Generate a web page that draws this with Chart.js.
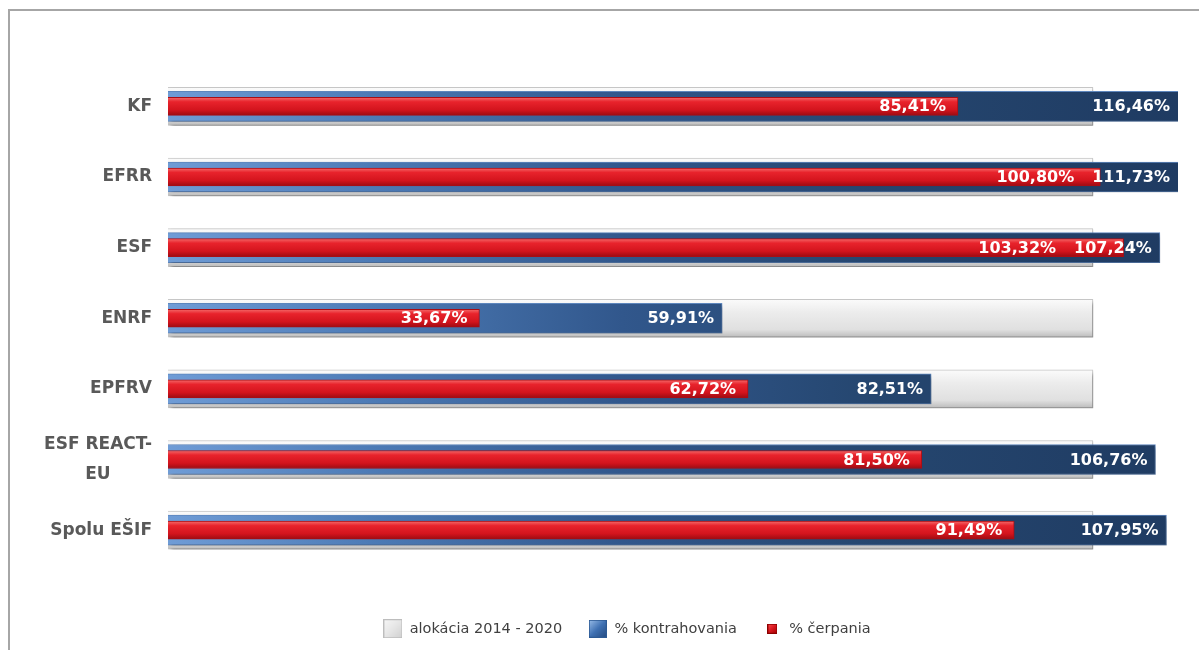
<!DOCTYPE html>
<html>
<head>
<meta charset="utf-8">
<script src="https://cdn.jsdelivr.net/npm/chart.js@4.4.1/dist/chart.umd.min.js"></script>
<style>
  html, body { margin: 0; padding: 0; background: #fff; }
  .wrap { position: relative; width: 1199px; height: 650px; overflow: hidden; }
  .frame { position: absolute; left: 8px; top: 9px; width: 1300px; height: 800px;
           border-left: 2px solid #a6a6a6; border-top: 2px solid #a6a6a6; }
  canvas { position: absolute; left: 0; top: 0; }
</style>
</head>
<body>
<div class="wrap">
  <div class="frame"></div>
  <canvas id="chart" width="1199" height="650"></canvas>
</div>
<script>
// data
const categories = ['KF', 'EFRR', 'ESF', 'ENRF', 'EPFRV', ['ESF REACT-', 'EU       '], 'Spolu EŠIF'];
const allocation = [100, 100, 100, 100, 100, 100, 100];
const contracted = [116.46, 111.73, 107.24, 59.91, 82.51, 106.76, 107.95];
const drawn = [85.41, 100.80, 103.32, 33.67, 62.72, 81.50, 91.49];
const seriesNames = ['alokácia 2014 - 2020', '% kontrahovania', '% čerpania'];

// vertical gradient across one bar
function vGrad(stops, thickness) {
  return (c) => {
    const chart = c.chart;
    if (!chart.chartArea || c.dataIndex === undefined) return stops[1][1];
    const yc = chart.scales.y.getPixelForValue(c.dataIndex);
    const g = chart.ctx.createLinearGradient(0, yc - thickness / 2, 0, yc + thickness / 2);
    stops.forEach(([p, col]) => g.addColorStop(p, col));
    return g;
  };
}

function blueFill(c) {
  const area = c.chart.chartArea;
  if (!area) return '#2f5488';
  const g = c.chart.ctx.createLinearGradient(area.left, 0, area.right, 0);
  g.addColorStop(0, '#6f9cd6');
  g.addColorStop(0.2, '#4d7bb6');
  g.addColorStop(0.45, '#31578c');
  g.addColorStop(0.7, '#25466f');
  g.addColorStop(1, '#1f3b62');
  return g;
}

function makeIcon(w, h, colors, edge) {
  const c = document.createElement('canvas');
  c.width = w; c.height = h;
  const x = c.getContext('2d');
  const g = x.createLinearGradient(0, 0, w, h);
  colors.forEach((col, i) => g.addColorStop(i / (colors.length - 1), col));
  x.fillStyle = g;
  x.fillRect(0, 0, w, h);
  x.strokeStyle = edge;
  x.strokeRect(0.5, 0.5, w - 1, h - 1);
  return c;
}

const legendIcons = [
  makeIcon(19, 19, ['#f7f7f7', '#e6e6e6', '#cfcfcf'], '#bdbdbd'),
  makeIcon(18, 18, ['#9cc0ea', '#3f71b3', '#24497f'], '#2d5a94'),
  makeIcon(10, 10, ['#ff5050', '#d81820', '#a00000'], '#8c0000')
];

const barShadows = {
  id: 'barShadows',
  beforeDatasetDraw(chart, args) {
    if (args.index > 1) return;
    const ctx = chart.ctx;
    ctx.save();
    ctx.shadowColor = args.index === 0 ? 'rgba(0,0,0,0.35)' : 'rgba(0,0,0,0.25)';
    ctx.shadowBlur = 4;
    ctx.shadowOffsetX = 3;
    ctx.shadowOffsetY = 3;
  },
  afterDatasetDraw(chart, args) {
    if (args.index > 1) return;
    chart.ctx.restore();
  }
};

// legend sits a bit right of the canvas centre, under the plot
const legendShift = {
  id: 'legendShift',
  afterLayout(chart) {
    chart.legend.left += 27;
    chart.legend.right += 27;
  }
};

const valueLabels = {
  id: 'valueLabels',
  afterDatasetsDraw(chart) {
    const ctx = chart.ctx;
    const area = chart.chartArea;
    const fmt = (v) => v.toFixed(2).replace('.', ',') + '%';
    ctx.save();
    ctx.font = 'bold 16px "DejaVu Sans"';
    ctx.fillStyle = '#ffffff';
    ctx.textAlign = 'right';
    ctx.textBaseline = 'middle';
    const blueMeta = chart.getDatasetMeta(1);
    const redMeta = chart.getDatasetMeta(2);
    blueMeta.data.forEach((bar, i) => {
      const text = fmt(contracted[i]);
      const bx = Math.min(bar.x, area.right) - 8;
      ctx.fillText(text, bx, bar.y + 1);
      const red = redMeta.data[i];
      const blueLeft = bx - ctx.measureText(text).width;
      const rx = Math.min(red.x - 12, blueLeft - 18);
      ctx.fillText(fmt(drawn[i]), rx, red.y + 1);
    });
    ctx.restore();
  }
};

new Chart(document.getElementById('chart'), {
  type: 'bar',
  data: {
    labels: categories,
    datasets: [
      {
        label: seriesNames[0],
        data: allocation,
        order: 3,
        barThickness: 38,
        backgroundColor: vGrad([[0, '#fbfbfb'], [0.35, '#ececec'], [0.8, '#e0e0e0'], [1, '#bcbcbc']], 38),
        borderColor: '#c9c9c9',
        borderWidth: 1
      },
      {
        label: seriesNames[1],
        data: contracted,
        order: 2,
        barThickness: 30,
        backgroundColor: blueFill,
        borderColor: '#5e87bf',
        borderWidth: 1
      },
      {
        label: seriesNames[2],
        data: drawn,
        order: 1,
        barThickness: 18,
        backgroundColor: vGrad([[0, '#f46a6a'], [0.25, '#e8232c'], [0.7, '#d3141d'], [1, '#9c0b12']], 18),
        borderColor: '#a80d14',
        borderWidth: 1
      }
    ]
  },
  options: {
    indexAxis: 'y',
    responsive: false,
    animation: false,
    datasets: { bar: { grouped: false } },
    layout: { padding: { left: 22, right: 21, top: 71, bottom: 4 } },
    scales: {
      x: {
        min: 0,
        max: 109.2,
        grid: { display: false, drawTicks: false },
        border: { display: false },
        ticks: { display: false },
        afterFit(s) { s.height = 30; }
      },
      y: {
        grid: { display: false, drawTicks: false },
        border: { display: false },
        ticks: {
          padding: 16,
          color: '#595959',
          autoSkip: false,
          font: { family: 'DejaVu Sans', size: 17, weight: 'bold', lineHeight: 1.8 }
        },
        afterFit(s) { s.width = 146; }
      }
    },
    plugins: {
      tooltip: { enabled: false },
      legend: {
        position: 'bottom',
        labels: {
          usePointStyle: true,
          pointStyleWidth: 19,
          padding: 26,
          color: '#404040',
          font: { family: 'DejaVu Sans', size: 14.5 },
          generateLabels(chart) {
            const items = Chart.defaults.plugins.legend.labels.generateLabels(chart);
            items.sort((a, b) => a.datasetIndex - b.datasetIndex);
            items.forEach((it) => { it.pointStyle = legendIcons[it.datasetIndex]; });
            return items;
          }
        }
      }
    }
  },
  plugins: [barShadows, legendShift, valueLabels]
});
</script>
</body>
</html>
